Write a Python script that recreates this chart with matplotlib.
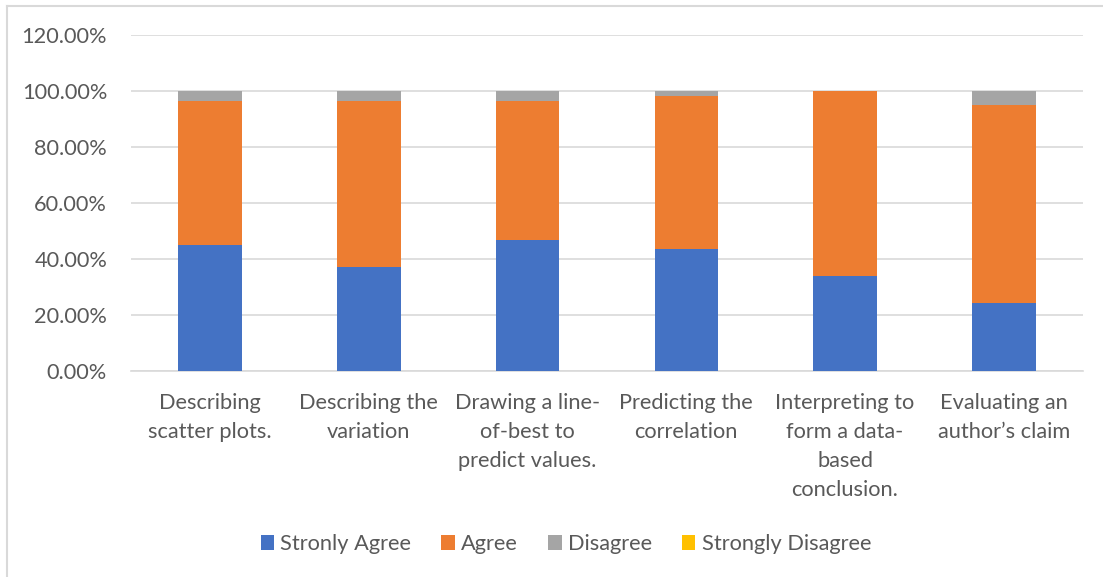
import numpy as np
import matplotlib.pyplot as plt
from matplotlib.lines import Line2D
from matplotlib.ticker import FuncFormatter

plt.rcParams['font.family'] = ['Lato', 'DejaVu Sans']

categories = ["Describing\nscatter plots.", "Describing the\nvariation",
              "Drawing a line-\nof-best to\npredict values.", "Predicting the\ncorrelation",
              "Interpreting to\nform a data-\nbased\nconclusion.", "Evaluating an\nauthor\u2019s claim"]
strongly_agree = [44.9, 37.0, 46.6, 43.5, 33.7, 24.0]
agree = [51.5, 59.4, 49.8, 54.7, 66.3, 70.9]
disagree = [3.6, 3.6, 3.6, 1.8, 0.0, 5.1]
strongly_disagree = [0.0, 0.0, 0.0, 0.0, 0.0, 0.0]

series = [("Stronly Agree", strongly_agree, "#4472C4"),
          ("Agree", agree, "#ED7D31"),
          ("Disagree", disagree, "#A5A5A5"),
          ("Strongly Disagree", strongly_disagree, "#FFC000")]

txt = "#595959"
fs = 15.7

fig = plt.figure(figsize=(11.03, 5.77), dpi=100)
ax = fig.add_axes([0.1185, 0.3576, 0.8635, 0.5824])

x = np.arange(len(categories))
bottom = np.zeros(len(categories))
for name, vals, col in series:
    ax.bar(x, vals, width=0.4, bottom=bottom, color=col, label=name, zorder=3)
    bottom += np.array(vals)

ax.set_xlim(-0.5, len(categories) - 0.5)
ax.set_ylim(0, 120)
ax.set_yticks(np.arange(0, 121, 20))
ax.yaxis.set_major_formatter(FuncFormatter(lambda v, p: f"{v:.2f}%"))
ax.grid(axis='y', color="#D9D9D9", linewidth=1.2, zorder=0)
ax.set_xticks(x)
ax.set_xticklabels(categories, fontsize=fs, color=txt, linespacing=1.56)
ax.tick_params(axis='y', labelsize=fs, labelcolor=txt, length=0, pad=17)
ax.tick_params(axis='x', length=0, pad=16)
for s in ['top', 'right', 'left']:
    ax.spines[s].set_visible(False)
ax.spines['bottom'].set_color("#D9D9D9")
ax.spines['bottom'].set_linewidth(1.2)

leg = fig.legend(loc='center', bbox_to_anchor=(0.513, 0.057), ncol=4, frameon=False,
                 fontsize=fs, handlelength=0.63, handleheight=0.63, handletextpad=0.28,
                 columnspacing=1.37)
for t in leg.get_texts():
    t.set_color(txt)

# chart area outline (top and left edges)
fig.add_artist(Line2D([6.5 / 1103, 6.5 / 1103], [0, 1 - 5.5 / 577],
                      transform=fig.transFigure, color="#D9D9D9", linewidth=1.5))
fig.add_artist(Line2D([6.5 / 1103, 1], [1 - 5.5 / 577, 1 - 5.5 / 577],
                      transform=fig.transFigure, color="#D9D9D9", linewidth=1.5))

fig.savefig("out.png", dpi=100)
